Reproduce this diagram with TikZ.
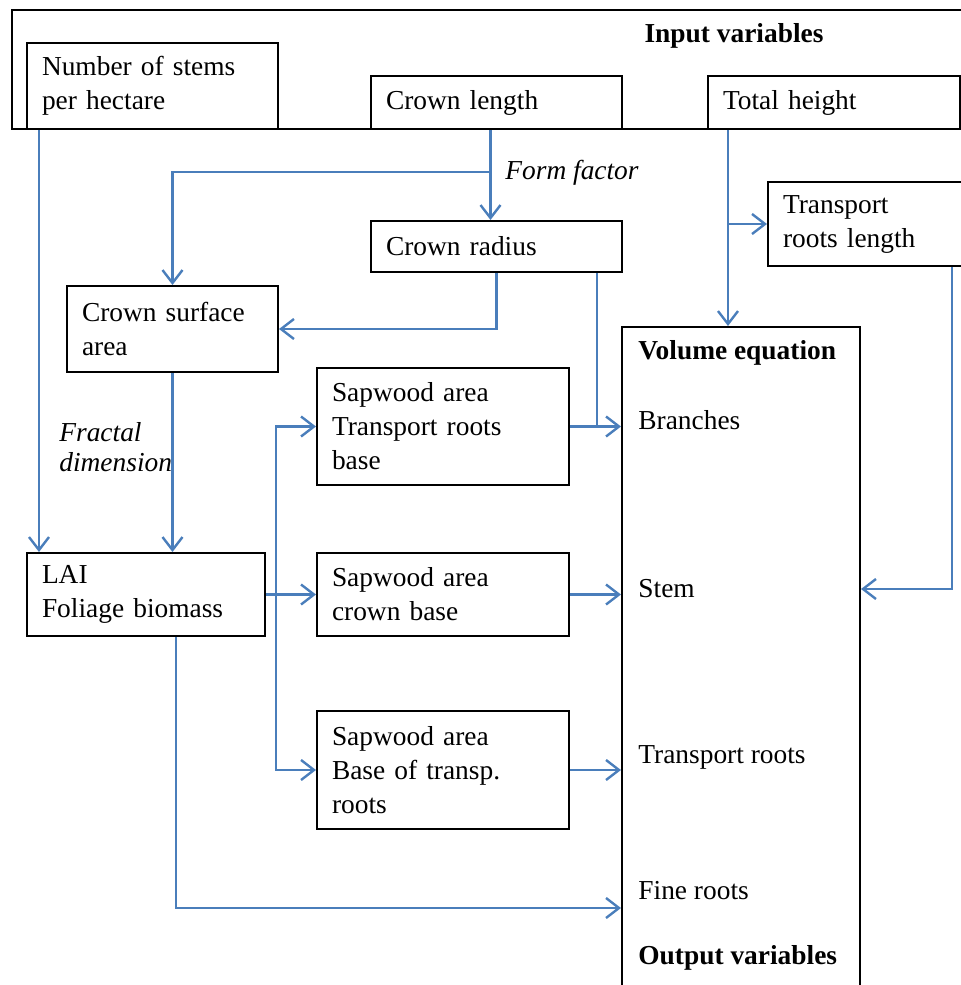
\documentclass[tikz,border=0pt]{standalone}
\usepackage{fontspec}
\setmainfont{Liberation Serif}
\usetikzlibrary{arrows.meta}
\definecolor{linkblue}{RGB}{74,126,187}

\begin{document}
\begin{tikzpicture}[x=0.5pt,y=-0.5pt,
    font=\fontsize{13.7}{17}\selectfont,
    box/.style={draw,line width=1pt,anchor=north west,align=left,inner xsep=7.5pt,inner ysep=0pt},
    frame/.style={draw,line width=1pt,anchor=north west,inner sep=0pt},
    vtxt/.style={anchor=west,inner sep=0pt},
    lbl/.style={font=\fontsize{13.7}{15}\selectfont\itshape,align=left,inner sep=0pt,anchor=west},
    link/.style={draw=linkblue,line width=1.2pt,-{Straight Barb[length=6.5pt,width=10pt]}}]
  \clip (0,0) rectangle (961,985);
  % frames
  \node[frame,minimum width=482pt,minimum height=59.5pt] (inp) at (11,9) {};
  \node[frame,minimum width=119pt,minimum height=340pt] (vol) at (621,326) {};
  \node[font=\fontsize{13.7}{17}\selectfont\bfseries] (invar) at (734,36) {Input variables};

  % input boxes
  \node[box,text width=110.5pt,minimum height=43pt] (nps) at (26,42) {Number of stems\\per hectare};
  \node[box,text width=110.5pt,minimum height=26.5pt] (cl) at (370,75) {Crown length};
  \node[box,text width=111pt,minimum height=26.5pt] (th) at (707,75) {Total height};

  % intermediate boxes
  \node[box,text width=110.5pt,minimum height=25.5pt] (cr) at (370,220) {Crown radius};
  \node[box,text width=89pt,minimum height=42pt] (trl) at (767,181) {Transport\\roots length};
  \node[box,text width=90.5pt,minimum height=43pt] (cs) at (66,285) {Crown surface\\area};
  \node[box,text width=111pt,minimum height=58.5pt] (sw1) at (316,367) {Sapwood area\\Transport roots\\base};
  \node[box,text width=104pt,minimum height=41.5pt] (lai) at (26,552) {LAI\\Foliage biomass};
  \node[box,text width=111pt,minimum height=41.5pt] (sw2) at (316,552) {Sapwood area\\crown base};
  \node[box,text width=111pt,minimum height=59pt] (sw3) at (316,710) {Sapwood area\\Base of transp.\\roots};

  % output texts
  \node[vtxt,font=\fontsize{13.7}{17}\selectfont\bfseries] (veq) at (638,353) {Volume equation};
  \node[vtxt] (br) at (638,420) {Branches};
  \node[vtxt] (st) at (638,589) {Stem};
  \node[vtxt] (tr) at (638,757) {Transport roots};
  \node[vtxt] (fr) at (638,891) {Fine roots};
  \node[vtxt,font=\fontsize{13.7}{17}\selectfont\bfseries] (outvar) at (638,958) {Output variables};

  % labels
  \node[lbl] (ff) at (505,173) {Form factor};
  \node[lbl] (fd) at (59,447) {Fractal\\dimension};

  % connectors
  \coordinate (ffsplit) at (489,172);
  \draw[link] ([xshift=-3pt]cl.south) -- ([xshift=-3pt]cr.north);
  \draw[link] (ffsplit) -| (cs.north);
  \draw[link] (cr.south) |- (cs.east);
  \coordinate (crx) at ([xshift=-13pt]cr.south east);
  \draw[link,-] (crx) -- (crx |- sw1.east);

  \coordinate (npsx) at ([xshift=6.5pt]nps.south west);
  \draw[link] (npsx) -- (npsx |- lai.north);
  \draw[link] (cs.south) -- (cs.south |- lai.north);

  \coordinate (thx) at ([xshift=10.5pt]th.south west);
  \draw[link] (thx) -- (thx |- vol.north);
  \draw[link] (thx |- trl.west) -- (trl.west);
  \coordinate (trlx) at ([xshift=92.5pt]trl.south west);
  \draw[link] (trlx) |- (st -| vol.east);

  \draw[link] (lai.east) -- (sw2.west);
  \coordinate (sapsplit) at ([xshift=5pt]lai.east);
  \draw[link] (sapsplit) |- (sw1.west);
  \draw[link] (sapsplit) |- (sw3.west);
  \foreach \s in {sw1,sw2,sw3}
    \draw[link] (\s.east) -- (\s.east -| vol.west);

  \coordinate (laix) at ([xshift=15pt]lai.south);
  \coordinate (frin) at (vol.west |- fr.west);
  \draw[link] (laix) |- ([yshift=-8.5pt]frin);
\end{tikzpicture}
\end{document}
